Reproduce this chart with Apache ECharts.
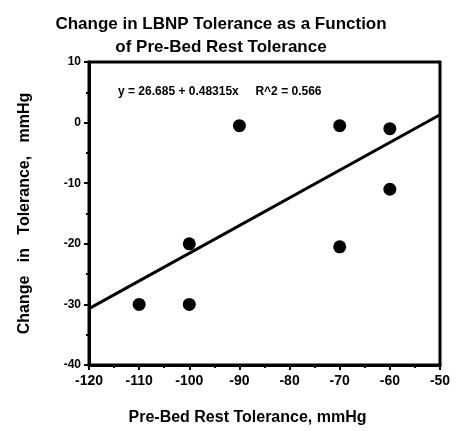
<!DOCTYPE html>
<html>
<head>
<meta charset="utf-8">
<script src="https://cdn.jsdelivr.net/npm/echarts@6/dist/echarts.min.js"></script>
<style>html,body{margin:0;padding:0;background:#fff}#c{width:459px;height:431px}</style>
</head>
<body>
<div id="c"></div>
<script>
const titleText = "Change in LBNP Tolerance as a Function\nof Pre-Bed Rest Tolerance";
const xName = "Pre-Bed Rest Tolerance, mmHg";
const yName = "Change   in   Tolerance,   mmHg";
const equationText = "y = 26.685 + 0.48315x     R^2 = 0.566";
const xValues = [-110, -100, -100, -90, -70, -70, -60, -60];
const yValues = [-30, -30, -20, -0.5, -0.5, -20.5, -1, -11];
const fitLineX = [-120, -50];
const fitLineY = [-30.7, 1.3];
const xTicks = {min: -120, max: -50, interval: 10};
const yTicks = {min: -40, max: 10, interval: 10};

const font = '"Liberation Sans", Arial, sans-serif';
const chart = echarts.init(document.getElementById('c'), null, {renderer: 'canvas'});
chart.setOption({
  backgroundColor: '#fff',
  animation: false,
  title: {
    text: titleText,
    left: 216, top: 8, textAlign: 'center',
    textStyle: {fontFamily: font, fontSize: 17, fontWeight: 'bold', color: '#000', lineHeight: 23}
  },
  grid: {left: 89, right: 19, top: 62, bottom: 66, show: true, borderColor: '#000', borderWidth: 3, backgroundColor: 'transparent'},
  xAxis: {
    type: 'value', min: xTicks.min, max: xTicks.max, interval: xTicks.interval,
    name: xName, nameLocation: 'middle', nameGap: 45,
    nameTextStyle: {fontFamily: font, fontSize: 16, fontWeight: 'bold', color: '#000', padding: [0, 34, 0, 0]},
    axisLine: {show: true, onZero: false, lineStyle: {color: '#000', width: 3}},
    axisTick: {show: true, length: 5, lineStyle: {color: '#000', width: 2}},
    minorTick: {show: true, splitNumber: 2, length: 3, lineStyle: {color: '#000', width: 2}},
    splitLine: {show: false},
    axisLabel: {fontFamily: font, fontSize: 14, fontWeight: 'bold', color: '#000', margin: 9}
  },
  yAxis: {
    type: 'value', min: yTicks.min, max: yTicks.max, interval: yTicks.interval,
    name: yName, nameLocation: 'middle', nameGap: 56,
    nameTextStyle: {fontFamily: font, fontSize: 16, fontWeight: 'bold', color: '#000'},
    axisLine: {show: true, onZero: false, lineStyle: {color: '#000', width: 3}},
    axisTick: {show: true, length: 5, lineStyle: {color: '#000', width: 2}},
    minorTick: {show: true, splitNumber: 2, length: 3, lineStyle: {color: '#000', width: 2}},
    splitLine: {show: false},
    axisLabel: {fontFamily: font, fontSize: 12, fontWeight: 'bold', color: '#000', margin: 8}
  },
  graphic: [{
    type: 'text', left: 118, top: 86,
    style: {text: equationText, fontFamily: font, fontSize: 12, fontWeight: 'bold', fill: '#000'}
  }],
  series: [
    {
      type: 'line', data: fitLineX.map((x, i) => [x, fitLineY[i]]),
      showSymbol: false, lineStyle: {color: '#000', width: 3}, silent: true, z: 2
    },
    {
      type: 'scatter', data: xValues.map((x, i) => [x, yValues[i]]),
      symbol: 'circle', symbolSize: 13, itemStyle: {color: '#000', opacity: 1}, z: 3
    }
  ]
});
</script>
</body>
</html>
